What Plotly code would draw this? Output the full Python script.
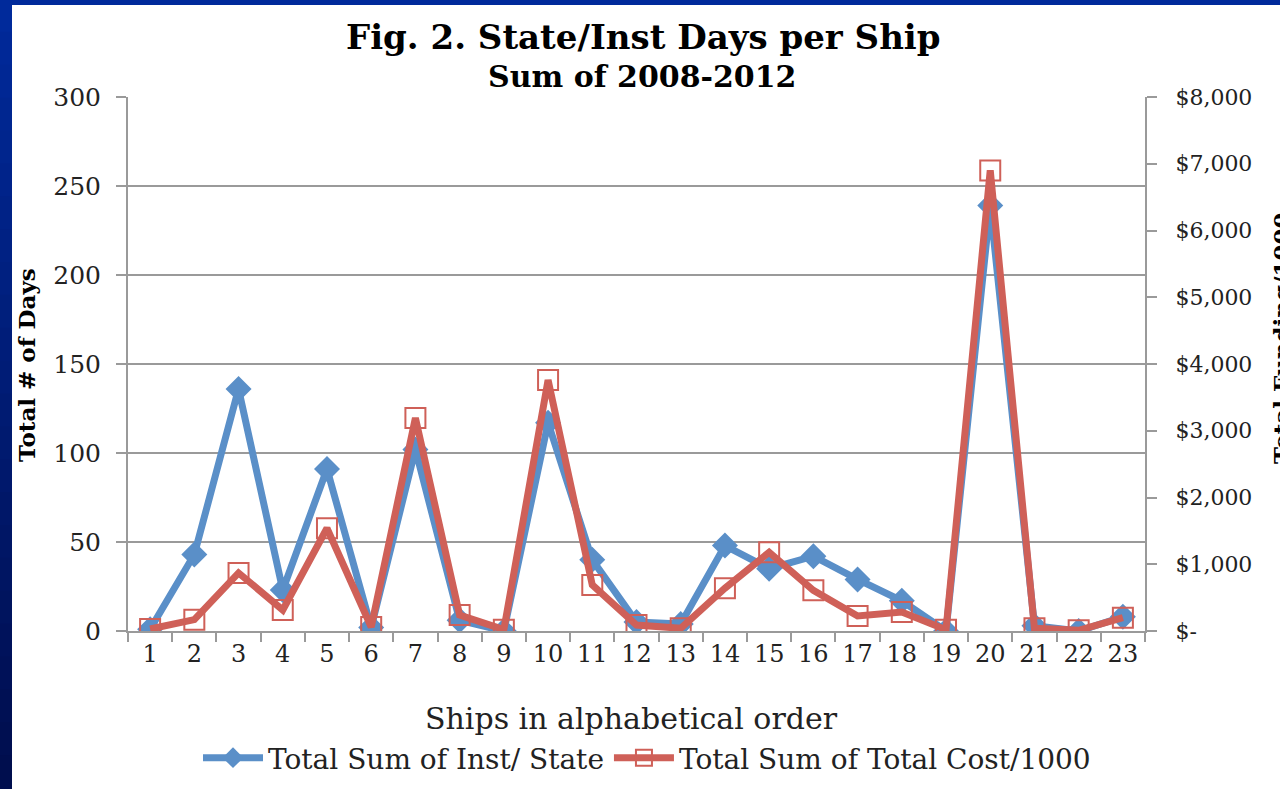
import plotly.graph_objects as go

ships = [str(i) for i in range(1, 24)]
inst_state_days = [1, 43, 136, 23, 91, 2, 102, 6, 0, 117, 40, 5, 4, 48, 35, 42, 29, 17, 0, 239, 3, 0, 8]
total_cost_k = [30, 170, 870, 315, 1540, 60, 3190, 240, 20, 3760, 690, 90, 40, 640, 1180, 610, 225, 285, 20, 6900, 40, 10, 200]

left_ticks = [0, 50, 100, 150, 200, 250, 300]
right_ticks = [0, 1000, 2000, 3000, 4000, 5000, 6000, 7000, 8000]
right_labels = ["$-", "$1,000", "$2,000", "$3,000", "$4,000", "$5,000", "$6,000", "$7,000", "$8,000"]

FONT = "DejaVu Serif"
BLUE = "#5a8fc8"
RED = "#cf6058"
GRID = "#9a9a9a"
TXT = "#222222"

W, H = 1280, 789
PL, PR, PT, PB = 128, 1145, 97, 631
PW, PH = PR - PL, PB - PT


def px(x):
    return (x - PL) / PW


def py(y):
    return (PB - y) / PH


fig = go.Figure()
fig.add_trace(go.Scatter(
    x=ships, y=inst_state_days, name="Total Sum of Inst/ State",
    mode="lines+markers", line=dict(color=BLUE, width=7),
    marker=dict(symbol="diamond", size=20, color=BLUE), yaxis="y"))
fig.add_trace(go.Scatter(
    x=ships, y=total_cost_k, name="Total Sum of Total Cost/1000",
    mode="lines+markers", line=dict(color=RED, width=7),
    marker=dict(symbol="square-open", size=20, color=RED, line=dict(width=2)), yaxis="y2"))

shapes = []
n = 24
c0 = (0, 42, 155)
c1 = (0, 14, 78)
for i in range(n):
    t = i / (n - 1)
    col = "rgb(%d,%d,%d)" % tuple(int(a + (b - a) * t) for a, b in zip(c0, c1))
    shapes.append(dict(type="rect", xref="paper", yref="paper",
                       x0=px(-2), x1=px(12),
                       y0=py(H * (i + 1) / n + 1), y1=py(H * i / n - 1),
                       fillcolor=col, line=dict(width=0), layer="below"))
shapes.append(dict(type="rect", xref="paper", yref="paper",
                   x0=px(-2), x1=px(W + 2), y0=py(5), y1=py(-2),
                   fillcolor="rgb(0,42,155)", line=dict(width=0), layer="below"))

annotations = [
    dict(text="<b>Fig. 2. State/Inst Days per Ship</b>", x=px(643), y=py(37),
         xref="paper", yref="paper", showarrow=False, font=dict(family=FONT, size=34, color="black"),
         xanchor="center", yanchor="middle"),
    dict(text="<b>Sum of 2008-2012</b>", x=px(642), y=py(76),
         xref="paper", yref="paper", showarrow=False, font=dict(family=FONT, size=30, color="black"),
         xanchor="center", yanchor="middle"),
    dict(text="<b>Total # of Days</b>", x=px(26), y=py(365),
         xref="paper", yref="paper", showarrow=False, textangle=-90,
         font=dict(family=FONT, size=23, color="black"), xanchor="center", yanchor="middle"),
    dict(text="<b>Total Funding/1000</b>", x=px(1281), y=py(338),
         xref="paper", yref="paper", showarrow=False, textangle=-90,
         font=dict(family=FONT, size=23, color="black"), xanchor="center", yanchor="middle"),
    dict(text="Ships in alphabetical order", x=px(631), y=py(718),
         xref="paper", yref="paper", showarrow=False,
         font=dict(family=FONT, size=30, color=TXT), xanchor="center", yanchor="middle"),
]

fig.update_layout(
    width=W, height=H,
    margin=dict(l=PL, r=W - PR, t=PT, b=H - PB),
    paper_bgcolor="white", plot_bgcolor="white",
    font=dict(family=FONT, color=TXT),
    shapes=shapes, annotations=annotations,
    showlegend=True,
    legend=dict(orientation="h", xref="container", yref="container",
                x=198 / W, y=1 - 758 / H,
                xanchor="left", yanchor="middle", font=dict(family=FONT, size=28, color=TXT),
                bgcolor="rgba(0,0,0,0)", itemwidth=60, tracegroupgap=0),
    xaxis=dict(type="category", range=[-0.5, 22.5], showgrid=False,
               showline=True, linecolor=GRID, linewidth=2,
               ticks="outside", tickson="boundaries", ticklen=9, tickcolor=GRID, tickwidth=1.5,
               tickfont=dict(family=FONT, size=24, color=TXT)),
    yaxis=dict(range=[0, 300], tickvals=left_ticks, showgrid=True, gridcolor=GRID, gridwidth=1.5,
               showline=True, linecolor=GRID, linewidth=2, zeroline=False,
               ticks="outside", ticklen=10, tickcolor=GRID, tickwidth=1.5, ticklabelstandoff=10,
               tickfont=dict(family=FONT, size=25, color=TXT)),
    yaxis2=dict(range=[0, 8000], tickvals=right_ticks, ticktext=right_labels, overlaying="y", side="right",
                showgrid=False, showline=True, linecolor=GRID, linewidth=2, zeroline=False,
                ticks="outside", ticklen=10, tickcolor=GRID, tickwidth=1.5, ticklabelstandoff=14,
                tickfont=dict(family=FONT, size=22, color=TXT)),
)

fig.write_html("out.html", config={"displayModeBar": False},
               post_script="document.body.style.margin='0';")
